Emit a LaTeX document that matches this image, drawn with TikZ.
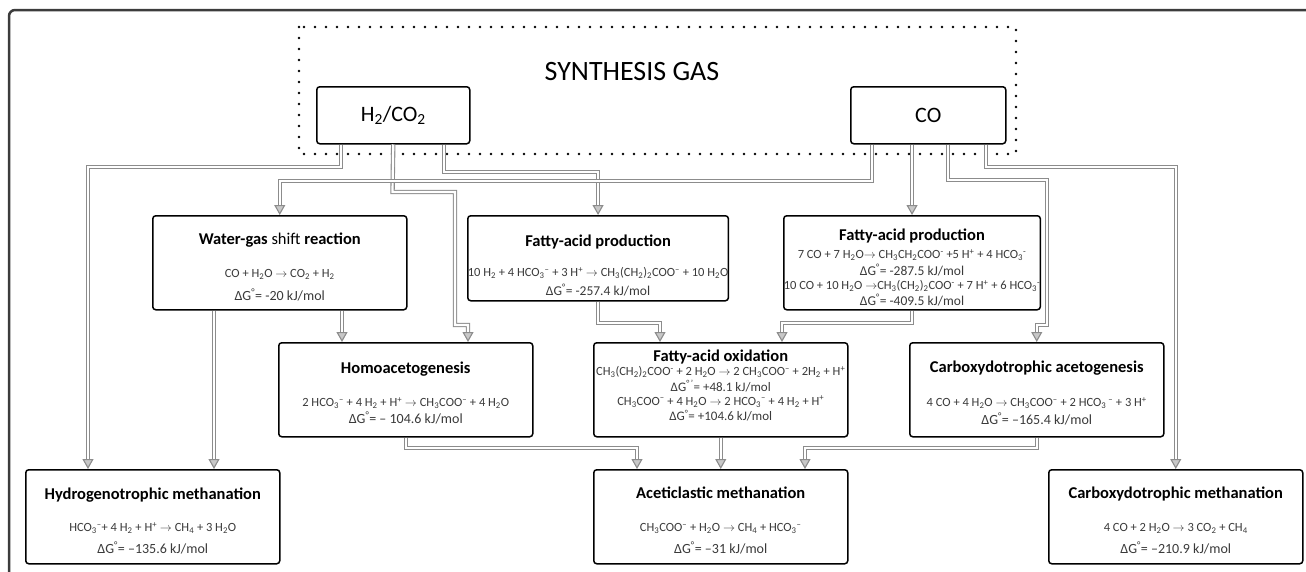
\documentclass[tikz,border=0pt]{standalone}
\usepackage{fontspec}
\setmainfont{Carlito}
\usetikzlibrary{arrows.meta}

\definecolor{flowgray}{HTML}{8C8C8C}
\definecolor{tipfill}{HTML}{C8C8C8}
\definecolor{eqtext}{HTML}{3A3A3A}
\definecolor{framegray}{HTML}{3C3C3C}

\newcommand{\chsub}[1]{\textsubscript{#1}}
\newcommand{\chsup}[1]{\textsuperscript{#1}}
\newcommand{\rarr}{\ensuremath{\rightarrow}}
\newcommand{\eqfont}{\fontsize{12.5}{14}\selectfont\lineskiplimit-50pt\relax}
\newcommand{\boxtitle}[2][20pt]{{\fontsize{16.5}{19}\selectfont\bfseries\color{black}\rule{0pt}{#1}#2}}
\newcommand{\dG}[2][14]{{\fontsize{#1}{14}\selectfont ΔG\chsup{°}= #2}}

\tikzset{
  procbox/.style={draw=black, line width=1.5pt, rounded corners=3pt, fill=white,
    align=center, inner sep=0pt, minimum width=254pt, minimum height=94pt,
    anchor=north west, text=eqtext, font=\eqfont},
  gasbox/.style={draw=black, line width=1.5pt, rounded corners=3pt, fill=white,
    minimum height=57pt, anchor=north west, font=\fontsize{22}{26}\selectfont},
  flow/.style={draw=flowgray, line width=1.1pt, double=white, double distance=2.2pt,
    -{Triangle[length=10pt,width=11pt,fill=tipfill]}},
}

\begin{document}
\begin{tikzpicture}[x=1pt, y=-1pt, line join=miter]
\useasboundingbox (0,0) rectangle (1306,571);
% frame and synthesis gas area
\draw[framegray, line width=2.5pt, rounded corners=6pt] (9,10) rectangle (1340,600);
\draw[line width=2.6pt, line cap=round, dash pattern=on 0pt off 11pt] (299,27) rectangle (1016,154);
\node[font=\fontsize{28}{32}\selectfont] (syngas) at (632,72) {SYNTHESIS GAS};
\node[gasbox, minimum width=153pt] (h2co2) at (316,86) {H\chsub{2}/CO\chsub{2}};
\node[gasbox, minimum width=155pt] (co) at (850,86) {CO};

% process boxes
\node[procbox] (wgs) at (152,215) {\boxtitle[20.5pt]{Water-gas \textmd{shift} reaction}\\[18.5pt]
  CO + H\chsub{2}O \rarr{} CO\chsub{2} + H\chsub{2}\\[9pt]
  \dG{-20 kJ/mol}};
\node[procbox, minimum height=85pt] (fattyA) at (467,215) {\boxtitle[26.5pt]{Fatty-acid production}\\[15.5pt]
  10 H\chsub{2} + 4 HCO\chsub{3}\chsup{–} + 3 H\chsup{+} \rarr{} CH\chsub{3}(CH\chsub{2})\chsub{2}COO\chsup{–} + 10 H\chsub{2}O\\[5pt]
  \dG[13.5]{-257.4 kJ/mol}};
\node[procbox] (fattyB) at (783,215) {\boxtitle[21.5pt]{Fatty-acid production}\\[3.5pt]
  7 CO + 7 H\chsub{2}O\rarr{} CH\chsub{3}CH\chsub{2}COO\chsup{-} +5 H\chsup{+} + 4 HCO\chsub{3}\chsup{-}\\[3pt]
  \dG[13.5]{-287.5 kJ/mol}\\[0pt]
  10 CO + 10 H\chsub{2}O \rarr{}CH\chsub{3}(CH\chsub{2})\chsub{2}COO\chsup{-} + 7 H\chsup{+} + 6 HCO\chsub{3}\chsup{-}\\[2pt]
  \dG[13.5]{-409.5 kJ/mol}};
\node[procbox] (homo) at (278,342) {\boxtitle[18.5pt]{Homoacetogenesis}\\[19.5pt]
  2 HCO\chsub{3}\chsup{–} + 4 H\chsub{2} + H\chsup{+} \rarr{} CH\chsub{3}COO\chsup{–} + 4 H\chsub{2}O\\[3pt]
  \dG{– 104.6 kJ/mol}};
\node[procbox] (fox) at (593,342) {\boxtitle[0pt]{Fatty-acid oxidation}\\[0.5pt]
  CH\chsub{3}(CH\chsub{2})\chsub{2}COO\chsup{-} + 2 H\chsub{2}O \rarr{} 2 CH\chsub{3}COO\chsup{–} + 2H\chsub{2} + H\chsup{+}\\[1.5pt]
  {\fontsize{13}{14}\selectfont ΔG\chsup{°\,'}= +48.1 kJ/mol}\\[0pt]
  CH\chsub{3}COO\chsup{–} + 4 H\chsub{2}O \rarr{} 2 HCO\chsub{3}\chsup{–} + 4 H\chsub{2} + H\chsup{+}\\[1.5pt]
  \dG[13]{+104.6 kJ/mol}\rule[-9pt]{0pt}{1pt}};
\node[procbox] (cacet) at (909,342) {\boxtitle[18.5pt]{Carboxydotrophic acetogenesis}\\[20.5pt]
  4 CO + 4 H\chsub{2}O \rarr{} CH\chsub{3}COO\chsup{–} + 2 HCO\chsub{3}\chsup{ –} + 3 H\chsup{+}\\[4pt]
  \dG{–165.4 kJ/mol}};
\node[procbox] (hydro) at (25,469) {\boxtitle[20.5pt]{Hydrogenotrophic methanation}\\[17.5pt]
  HCO\chsub{3}\chsup{–}+ 4 H\chsub{2} + H\chsup{+} \rarr{} CH\chsub{4} + 3 H\chsub{2}O\\[8pt]
  \dG{–135.6 kJ/mol}};
\node[procbox] (acet) at (593,469) {\boxtitle[19.5pt]{Aceticlastic methanation}\\[18.5pt]
  CH\chsub{3}COO\chsup{–} + H\chsub{2}O \rarr{} CH\chsub{4} + HCO\chsub{3}\chsup{–}\\[8pt]
  \dG{–31 kJ/mol}};
\node[procbox] (cmeth) at (1048,469) {\boxtitle[19.5pt]{Carboxydotrophic methanation}\\[18.5pt]
  4 CO + 2 H\chsub{2}O \rarr{} 3 CO\chsub{2} + CH\chsub{4}\\[8pt]
  \dG{–210.9 kJ/mol}};

% flows out of the gas boxes
\draw[flow] (h2co2.south -| 341,0) -- (341,167) -| (hydro.north -| 88,0);
\draw[flow] (h2co2.south) -- (392.5,192) -| (455,325) -| (homo.north -| 468,0);
\draw[flow] (h2co2.south -| 444,0) -- (444,172) -| (fattyA.north);
\draw[flow] (co.south -| 872,0) -- (872,181) -| (wgs.north);
\draw[flow] (fattyB.north |- co.south) -- (fattyB.north);
\draw[flow] (co.south -| 948,0) -- (948,180) -| (1047,325) -| (cacet.north);
\draw[flow] (co.south -| 986,0) -- (986,167) -| (cmeth.north);
% flows between processes
\draw[flow] (wgs.south -| 214,0) -- (hydro.north -| 214,0);
\draw[flow] (wgs.south -| 342,0) -- (homo.north -| 342,0);
\draw[flow] (fattyA.south) -- (fattyA.south |- 0,323) -| (fox.north -| 660,0);
\draw[flow] (fattyB.south) -- (fattyB.south |- 0,323) -| (fox.north -| 782,0);
\draw[flow] (homo.south) -- (homo.south |- 0,448) -| (acet.north -| 637,0);
\draw[flow] (fox.south) -- (fox.south |- acet.north);
\draw[flow] (cacet.south) -- (cacet.south |- 0,448) -| (acet.north -| 805,0);
\end{tikzpicture}
\end{document}
